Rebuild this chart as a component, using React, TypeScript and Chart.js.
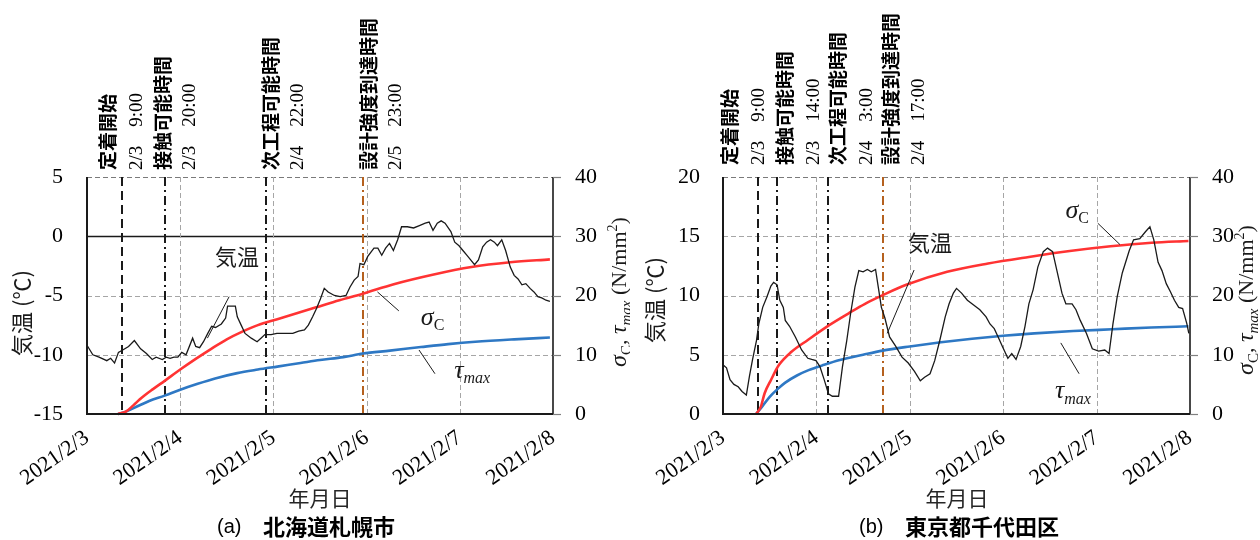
import React, { useEffect, useRef } from "react";
import { Chart, registerables } from "chart.js";

Chart.register(...registerables);

// ---------------- data ----------------
const dateLabels = ["2021/2/3", "2021/2/4", "2021/2/5", "2021/2/6", "2021/2/7", "2021/2/8"];
const dayTickHours = [0, 24, 48, 72, 96, 120];
const stressTicks = [0, 10, 20, 30, 40];

// (a) Sapporo
const sapporoTempTicks = [-15, -10, -5, 0, 5];
const sapporoTempHours = [
  0, 1.5, 3.1, 5.1, 6.1, 7.1, 8.1, 9.2, 10.7, 12.2,
  13.8, 15.3, 16.8, 17.8, 19.4, 20.4, 21.4, 22.4, 23.4, 24.4,
  25.5, 27.2, 28.0, 29.0, 30.0, 31.1, 32.1, 33.1, 34.6, 35.7,
  36.2, 38.2, 38.7, 39.7, 40.7, 42.3, 43.8, 44.8, 45.8, 47.4,
  48.9, 50.9, 53.0, 54.5, 56.0, 57.0, 58.1, 59.1, 60.1, 61.1,
  62.1, 63.7, 65.2, 66.7, 67.7, 68.8, 69.8, 70.3, 71.3, 72.3,
  73.9, 74.9, 75.9, 76.9, 77.9, 78.9, 80.0, 81.0, 82.5, 84.1,
  85.6, 87.1, 88.1, 89.1, 90.2, 91.2, 92.2, 93.7, 94.7, 95.8,
  96.8, 97.8, 98.8, 99.8, 100.8, 101.9, 102.9, 103.9, 104.9, 105.7,
  106.8, 107.8, 109.0, 110.0, 111.0, 112.0, 113.0, 114.1, 115.1, 116.1,
  117.1, 118.2, 119.2,
];
const sapporoTemp = [
  -9.2, -10.0, -10.2, -10.5, -10.3, -10.7, -9.8, -9.6, -9.3, -8.8,
  -9.5, -9.9, -10.4, -10.2, -10.4, -10.2, -10.3, -10.2, -10.2, -9.8,
  -10.0, -8.6, -9.3, -9.4, -8.9, -8.2, -7.6, -7.7, -7.4, -6.9,
  -5.9, -5.9, -6.8, -7.5, -8.2, -8.6, -8.9, -8.6, -8.3, -8.3,
  -8.2, -8.2, -8.2, -8.0, -7.9, -7.5, -6.8, -6.1, -5.3, -4.4,
  -4.7, -5.0, -5.1, -5.0, -4.3, -3.7, -3.4, -2.3, -2.4, -1.7,
  -1.0, -1.0, -1.6, -1.0, -0.6, -1.2, -0.3, 0.8, 0.8, 0.7,
  0.9, 1.1, 1.2, 0.5, 1.1, 1.3, 1.1, 0.4, -0.5, -0.8,
  -1.2, -1.6, -2.0, -2.4, -2.0, -0.9, -0.5, -0.3, -0.5, -0.8,
  -0.3, -1.2, -2.6, -3.3, -3.6, -4.1, -4.0, -4.4, -4.7, -5.1,
  -5.2, -5.4, -5.5,
];
const sapporoSigmaHours = [8, 10, 12, 14, 17, 20, 24, 28, 32, 36, 40, 44, 49, 54, 59, 65, 71, 79, 89, 99, 109, 119.2];
const sapporoSigma = [0, 0.4, 1.5, 2.7, 4.2, 5.6, 7.5, 9.3, 11.0, 12.6, 13.9, 15.0, 16.0, 17.0, 18.0, 19.2, 20.3, 21.9, 23.5, 24.8, 25.6, 26.1];
const sapporoTauHours = [8, 10, 13, 16, 20, 24, 28.5, 33, 38.7, 44, 49, 55, 60, 66, 71, 78, 86, 93, 100, 110, 119.2];
const sapporoTau = [0, 0.4, 1.3, 2.2, 3.1, 4.1, 5.1, 6.0, 6.9, 7.5, 8.0, 8.6, 9.1, 9.6, 10.2, 10.7, 11.3, 11.8, 12.2, 12.6, 12.9];
const sapporoEventHours = [9, 20, 46, 71];
const sapporoEventNames = ["定着開始", "接触可能時間", "次工程可能時間", "設計強度到達時間"];
const sapporoEventTimes = ["2/3\u30009:00", "2/3\u300020:00", "2/4\u300022:00", "2/5\u300023:00"];

// (b) Tokyo
const tokyoTempTicks = [0, 5, 10, 15, 20];
const tokyoTempHours = [
  0.2, 0.9, 1.8, 2.8, 3.9, 4.9, 6.0, 6.8, 7.6, 8.6,
  9.2, 10.2, 11.3, 12.3, 13.0, 13.9, 14.6, 15.5, 16.0, 17.1,
  18.6, 20.2, 21.8, 22.8, 23.9, 24.9, 26.0, 27.1, 28.1, 29.7,
  30.7, 31.8, 32.8, 33.9, 34.9, 36.0, 37.1, 38.1, 39.2, 39.9,
  40.7, 41.6, 42.8, 44.4, 46.0, 47.6, 49.2, 50.7, 51.8, 53.2,
  54.4, 55.7, 57.1, 58.1, 59.2, 60.0, 61.3, 62.8, 64.4, 66.0,
  67.6, 68.6, 69.7, 70.7, 71.8, 73.2, 74.2, 75.3, 76.5, 77.6,
  78.6, 79.7, 80.9, 82.3, 83.4, 84.7, 85.8, 87.1, 88.1, 89.7,
  90.7, 91.8, 93.4, 94.9, 96.5, 98.1, 99.2, 100.2, 101.3, 102.6,
  104.4, 105.5, 107.1, 108.6, 109.7, 110.7, 111.8, 112.8, 113.9, 115.0,
  116.0, 117.1, 118.1, 119.2, 119.7,
];
const tokyoTemp = [
  4.1, 3.9, 2.9, 2.5, 2.3, 1.9, 1.6, 3.2, 4.6, 6.2,
  7.6, 9.0, 9.9, 10.8, 11.1, 10.9, 9.6, 9.0, 7.9, 7.4,
  6.5, 5.4, 4.7, 4.6, 4.5, 4.0, 2.9, 1.7, 1.5, 1.5,
  4.0, 6.2, 8.5, 10.7, 12.1, 12.0, 12.2, 12.0, 12.2, 10.7,
  9.0, 8.1, 6.5, 5.7, 4.8, 4.3, 3.6, 2.8, 3.1, 3.4,
  4.5, 6.2, 8.2, 9.3, 10.2, 10.6, 10.2, 9.6, 9.2, 8.8,
  8.2, 7.6, 7.2, 6.5, 5.7, 4.7, 5.1, 4.6, 5.7, 7.4,
  9.3, 10.5, 12.4, 13.7, 14.0, 13.7, 12.1, 10.2, 9.3, 9.3,
  8.8, 7.9, 6.8, 5.5, 5.3, 5.4, 5.1, 7.6, 9.9, 11.9,
  13.8, 14.7, 14.8, 15.4, 15.8, 14.7, 12.8, 12.1, 11.0, 10.3,
  9.6, 9.0, 8.9, 7.6, 6.8,
];
const tokyoSigmaHours = [8.5, 9.7, 10.7, 12.3, 14.4, 17.6, 21.8, 27.3, 32.3, 36.5, 41.2, 47.1, 57.6, 68.1, 78.6, 89.1, 99.6, 110.1, 119.6];
const tokyoSigma = [0, 1.2, 3.5, 5.7, 8.3, 10.5, 12.5, 15.0, 17.0, 18.6, 20.1, 21.8, 24.0, 25.4, 26.5, 27.5, 28.3, 28.9, 29.2];
const tokyoTauHours = [8.5, 10, 12, 14, 16, 19, 22, 26, 30, 36, 41, 48, 56, 64, 72, 80, 90, 100, 110, 119.6];
const tokyoTau = [0, 1.2, 2.9, 4.2, 5.3, 6.5, 7.4, 8.3, 9.1, 10.0, 10.7, 11.4, 12.1, 12.7, 13.2, 13.6, 14.0, 14.3, 14.6, 14.8];
const tokyoEventHours = [9, 14, 27, 41];
const tokyoEventNames = ["定着開始", "接触可能時間", "次工程可能時間", "設計強度到達時間"];
const tokyoEventTimes = ["2/3\u30009:00", "2/3\u300014:00", "2/4\u30003:00", "2/4\u300017:00"];

// ---------------- styles / layout ----------------
const W = 630;
const H = 540;
const SERIF = "'Liberation Serif', 'Times New Roman', serif";
const JP = "'Noto Sans CJK JP', 'Noto Sans', sans-serif";
const EVENT_COLORS = ["#1a1a1a", "#1a1a1a", "#1a1a1a", "#b5611f"];
const EVENT_DASHES = [[9, 5], [9, 4, 2, 4], [9, 4, 2, 4], [9, 4, 2, 4]];

type Panel = {
  tempTicks: number[];
  tempHours: number[];
  temp: number[];
  sigmaHours: number[];
  sigma: number[];
  tauHours: number[];
  tau: number[];
  eventHours: number[];
  eventNames: string[];
  eventTimes: string[];
  layout: any;
};

const SAPPORO: Panel = {
  tempTicks: sapporoTempTicks,
  tempHours: sapporoTempHours,
  temp: sapporoTemp,
  sigmaHours: sapporoSigmaHours,
  sigma: sapporoSigma,
  tauHours: sapporoTauHours,
  tau: sapporoTau,
  eventHours: sapporoEventHours,
  eventNames: sapporoEventNames,
  eventTimes: sapporoEventTimes,
  layout: {
    left: 87,
    right: 553,
    leftPad: 24,
    nameX: [107, 162, 270, 368],
    timeX: [136, 189, 297, 395],
    annBottom: 170,
    yTitleX: 22,
    yTitleY: 313,
    y2TitleX: 619,
    y2TitleY: 292,
    xTitleX: 320,
    captionX: 217,
    captionTag: "(a)",
    captionText: "北海道札幌市",
    tempLabel: [38.6, -1.75],
    tempLine: [[36.6, -5.1], [31.0, -8.6]],
    sigmaLabel: [89.0, -6.8],
    sigmaLine: [[80.3, -6.3], [74.8, -4.7]],
    tauLabel: [99.2, -11.3],
    tauLine: [[89.6, -11.6], [85.5, -9.6]],
  },
};

const TOKYO: Panel = {
  tempTicks: tokyoTempTicks,
  tempHours: tokyoTempHours,
  temp: tokyoTemp,
  sigmaHours: tokyoSigmaHours,
  sigma: tokyoSigma,
  tauHours: tokyoTauHours,
  tau: tokyoTau,
  eventHours: tokyoEventHours,
  eventNames: tokyoEventNames,
  eventTimes: tokyoEventTimes,
  layout: {
    left: 93,
    right: 560,
    leftPad: 23,
    nameX: [99, 154, 207, 260],
    timeX: [128, 183, 236, 288],
    annBottom: 165,
    yTitleX: 25,
    yTitleY: 300,
    y2TitleX: 616,
    y2TitleY: 300,
    xTitleX: 327,
    captionX: 229,
    captionTag: "(b)",
    captionText: "東京都千代田区",
    tempLabel: [53.2, 14.5],
    tempLine: [[49.1, 12.15], [42.2, 6.8]],
    sigmaLabel: [91.0, 17.2],
    sigmaLine: [[96.3, 16.1], [102.0, 14.3]],
    tauLabel: [89.9, 2.0],
    tauLine: [[91.5, 3.4], [86.8, 6.0]],
  },
};

const PLOT_TOP = 177;
const PLOT_BOTTOM = 414;

function zip(xs: number[], ys: number[]) {
  const n = Math.min(xs.length, ys.length);
  const out: { x: number; y: number }[] = [];
  for (let i = 0; i < n; i++) out.push({ x: xs[i], y: ys[i] });
  return out;
}

type Run = { t: string; font: string; dy?: number };

function drawRuns(ctx: CanvasRenderingContext2D, runs: Run[], x: number, y: number, rot: number, align: "center" | "left") {
  ctx.save();
  ctx.translate(x, y);
  ctx.rotate(rot);
  ctx.textAlign = "left";
  ctx.textBaseline = "alphabetic";
  let total = 0;
  const ws = runs.map((r) => {
    ctx.font = r.font;
    const w = ctx.measureText(r.t).width;
    total += w;
    return w;
  });
  let cx = align === "center" ? -total / 2 : 0;
  runs.forEach((r, i) => {
    ctx.font = r.font;
    ctx.fillText(r.t, cx, r.dy || 0);
    cx += ws[i];
  });
  ctx.restore();
}

function sigmaRuns(size: number): Run[] {
  return [
    { t: "σ", font: `italic ${size + 2}px ${SERIF}` },
    { t: "C", font: `${Math.round(size * 0.68)}px ${SERIF}`, dy: size * 0.22 },
  ];
}
function tauRuns(size: number): Run[] {
  return [
    { t: "τ", font: `italic ${size + 2}px ${SERIF}` },
    { t: "max", font: `italic ${Math.round(size * 0.68)}px ${SERIF}`, dy: size * 0.22 },
  ];
}

function makeOverlay(p: Panel) {
  const L = p.layout;
  return {
    id: "overlay",
    beforeDatasetsDraw(chart: any) {
      const { ctx, chartArea: a, scales } = chart;
      const xs = scales.x;
      const ys = scales.y;
      ctx.save();
      p.tempTicks.forEach((v, i) => {
        if (i === 0) return;
        const py = Math.round(ys.getPixelForValue(v)) + 0.5;
        ctx.beginPath();
        if (v === 0) {
          ctx.setLineDash([]);
          ctx.strokeStyle = "#1a1a1a";
          ctx.lineWidth = 1.5;
        } else {
          ctx.setLineDash([5, 3]);
          ctx.strokeStyle = i === p.tempTicks.length - 1 ? "#7a7a7a" : "#a6a6a6";
          ctx.lineWidth = 1;
        }
        ctx.moveTo(a.left, py);
        ctx.lineTo(a.right, py);
        ctx.stroke();
      });
      ctx.setLineDash([5, 3]);
      ctx.strokeStyle = "#a6a6a6";
      ctx.lineWidth = 1;
      dayTickHours.forEach((h, i) => {
        if (i === 0 || i === dayTickHours.length - 1) return;
        const px = Math.round(xs.getPixelForValue(h)) + 0.5;
        ctx.beginPath();
        ctx.moveTo(px, a.top);
        ctx.lineTo(px, a.bottom);
        ctx.stroke();
      });
      p.eventHours.forEach((h, i) => {
        const px = Math.round(xs.getPixelForValue(h));
        ctx.beginPath();
        ctx.setLineDash(EVENT_DASHES[i]);
        ctx.strokeStyle = EVENT_COLORS[i];
        ctx.lineWidth = 2;
        ctx.moveTo(px, a.top);
        ctx.lineTo(px, a.bottom);
        ctx.stroke();
      });
      ctx.restore();
    },
    afterDatasetsDraw(chart: any) {
      const { ctx, chartArea: a, scales } = chart;
      const xs = scales.x;
      const ys = scales.y;
      const y2 = scales.y2;
      const P = (pt: number[]) => [xs.getPixelForValue(pt[0]), ys.getPixelForValue(pt[1])];
      ctx.save();
      ctx.setLineDash([]);
      ctx.strokeStyle = "#1a1a1a";
      ctx.lineWidth = 2;
      ctx.beginPath();
      ctx.moveTo(a.left, a.top);
      ctx.lineTo(a.left, a.bottom);
      ctx.lineTo(a.right, a.bottom);
      ctx.stroke();
      ctx.lineWidth = 1.6;
      ctx.beginPath();
      ctx.moveTo(a.right, a.top);
      ctx.lineTo(a.right, a.bottom);
      ctx.stroke();
      ctx.strokeStyle = "#808080";
      ctx.lineWidth = 1.2;
      stressTicks.forEach((v) => {
        const py = Math.round(y2.getPixelForValue(v)) + 0.5;
        ctx.beginPath();
        ctx.moveTo(a.right, py);
        ctx.lineTo(a.right + 8, py);
        ctx.stroke();
      });

      ctx.strokeStyle = "#1a1a1a";
      ctx.lineWidth = 1;
      [L.tempLine, L.sigmaLine, L.tauLine].forEach((ln: number[][]) => {
        const p1 = P(ln[0]);
        const p2 = P(ln[1]);
        ctx.beginPath();
        ctx.moveTo(p1[0], p1[1]);
        ctx.lineTo(p2[0], p2[1]);
        ctx.stroke();
      });
      ctx.fillStyle = "#1a1a1a";
      const tl = P(L.tempLabel);
      ctx.font = `22px ${JP}`;
      ctx.textAlign = "center";
      ctx.textBaseline = "middle";
      ctx.fillText("気温", tl[0], tl[1]);
      const sl = P(L.sigmaLabel);
      drawRuns(ctx, sigmaRuns(24), sl[0], sl[1] + 8, 0, "center");
      const ul = P(L.tauLabel);
      drawRuns(ctx, tauRuns(24), ul[0], ul[1] + 8, 0, "center");

      p.eventNames.forEach((name, i) => {
        ctx.save();
        ctx.translate(L.nameX[i], L.annBottom);
        ctx.rotate(-Math.PI / 2);
        ctx.font = `bold 19px ${JP}`;
        ctx.textAlign = "left";
        ctx.textBaseline = "middle";
        ctx.fillStyle = "#000";
        ctx.fillText(name, 0, 1);
        ctx.restore();
        ctx.save();
        ctx.translate(L.timeX[i], L.annBottom);
        ctx.rotate(-Math.PI / 2);
        ctx.font = `19px ${SERIF}`;
        ctx.textAlign = "left";
        ctx.textBaseline = "middle";
        ctx.fillStyle = "#000";
        ctx.fillText(p.eventTimes[i], 0, 1);
        ctx.restore();
      });

      ctx.save();
      ctx.translate(L.yTitleX, L.yTitleY);
      ctx.rotate(-Math.PI / 2);
      ctx.font = `22px ${JP}`;
      ctx.textAlign = "center";
      ctx.textBaseline = "middle";
      ctx.fillStyle = "#1a1a1a";
      ctx.fillText("気温 (℃)", 0, 0);
      ctx.restore();

      const runs: Run[] = [
        ...sigmaRuns(22),
        { t: ", ", font: `22px ${SERIF}` },
        ...tauRuns(22),
        { t: " (N/mm", font: `22px ${SERIF}` },
        { t: "2", font: `14px ${SERIF}`, dy: -9 },
        { t: ")", font: `22px ${SERIF}` },
      ];
      drawRuns(ctx, runs, L.y2TitleX + 7, L.y2TitleY, -Math.PI / 2, "center");

      ctx.font = `21px ${JP}`;
      ctx.textAlign = "center";
      ctx.textBaseline = "middle";
      ctx.fillStyle = "#262626";
      ctx.fillText("年月日", L.xTitleX, 498);

      ctx.fillStyle = "#000";
      ctx.textAlign = "left";
      ctx.font = `20px 'Liberation Sans', Arial, sans-serif`;
      ctx.fillText(L.captionTag, L.captionX, 527);
      ctx.font = `bold 22px ${JP}`;
      ctx.fillText(L.captionText, L.captionX + 46, 527);

      ctx.restore();
    },
  };
}

function buildConfig(p: Panel): any {
  const L = p.layout;
  const tickFont = { family: SERIF, size: 22 };
  return {
    type: "line",
    data: {
      datasets: [
        {
          label: "気温",
          data: zip(p.tempHours, p.temp),
          yAxisID: "y",
          borderColor: "#1a1a1a",
          borderWidth: 1.3,
          pointRadius: 0,
          tension: 0,
          clip: false,
        },
        {
          label: "σC",
          data: zip(p.sigmaHours, p.sigma),
          yAxisID: "y2",
          borderColor: "#ff3333",
          borderWidth: 2.6,
          pointRadius: 0,
          cubicInterpolationMode: "monotone",
          clip: false,
        },
        {
          label: "τmax",
          data: zip(p.tauHours, p.tau),
          yAxisID: "y2",
          borderColor: "#2e78c4",
          borderWidth: 2.6,
          pointRadius: 0,
          cubicInterpolationMode: "monotone",
          clip: false,
        },
      ],
    },
    options: {
      animation: false,
      responsive: false,
      devicePixelRatio: 1,
      events: [],
      layout: { padding: { top: PLOT_TOP, left: 0, right: 0, bottom: 0 } },
      plugins: { legend: { display: false }, tooltip: { enabled: false }, title: { display: false } },
      scales: {
        x: {
          type: "linear",
          min: dayTickHours[0],
          max: dayTickHours[dayTickHours.length - 1],
          afterBuildTicks: (s: any) => {
            s.ticks = dayTickHours.map((v) => ({ value: v }));
          },
          ticks: {
            autoSkip: false,
            maxRotation: 35,
            minRotation: 35,
            padding: 11,
            color: "#000",
            font: { family: SERIF, size: 22 },
            callback: (v: number) => dateLabels[dayTickHours.indexOf(v)],
          },
          grid: { display: false, drawTicks: false },
          border: { display: false },
          afterFit: (s: any) => {
            s.height = H - PLOT_BOTTOM;
            s.paddingLeft = 0;
            s.paddingRight = 0;
          },
        },
        y: {
          position: "left",
          min: p.tempTicks[0],
          max: p.tempTicks[p.tempTicks.length - 1],
          afterBuildTicks: (s: any) => {
            s.ticks = p.tempTicks.map((v) => ({ value: v }));
          },
          ticks: { color: "#000", font: tickFont, padding: L.leftPad },
          grid: { display: false, drawTicks: false },
          border: { display: false },
          afterFit: (s: any) => {
            s.width = L.left;
          },
        },
        y2: {
          position: "right",
          min: stressTicks[0],
          max: stressTicks[stressTicks.length - 1],
          afterBuildTicks: (s: any) => {
            s.ticks = stressTicks.map((v) => ({ value: v }));
          },
          ticks: { color: "#000", font: tickFont, padding: 22 },
          grid: { display: false, drawTicks: false },
          border: { display: false },
          afterFit: (s: any) => {
            s.width = W - L.right;
          },
        },
      },
    },
    plugins: [makeOverlay(p)],
  };
}

function PanelChart({ p }: { p: Panel }) {
  const ref = useRef<HTMLCanvasElement>(null);
  useEffect(() => {
    const chart = new Chart(ref.current as HTMLCanvasElement, buildConfig(p));
    return () => chart.destroy();
  }, [p]);
  return <canvas ref={ref} width={W} height={H} style={{ display: "block", width: W, height: H }} />;
}

export default function App() {
  return (
    <div
      style={{
        position: "fixed",
        left: 0,
        top: 0,
        width: 1260,
        height: 540,
        display: "flex",
        background: "#fff",
      }}
    >
      <PanelChart p={SAPPORO} />
      <PanelChart p={TOKYO} />
    </div>
  );
}
